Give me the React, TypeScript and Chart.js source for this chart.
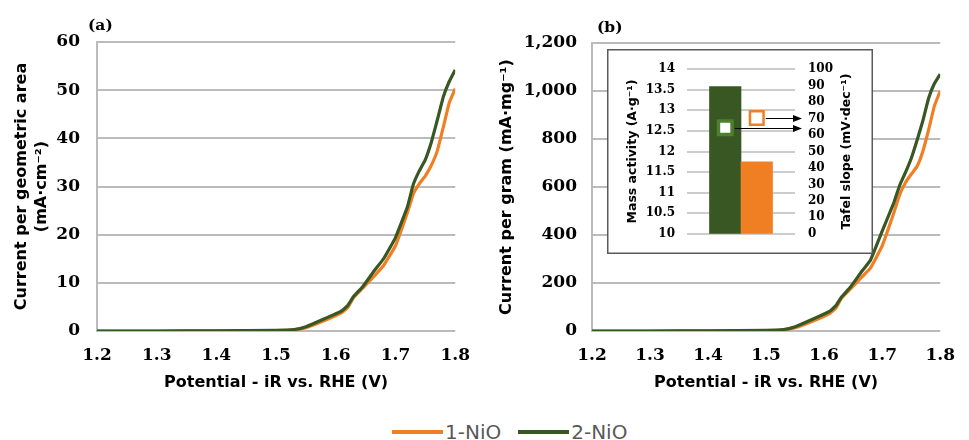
import React, { useEffect, useRef } from "react";
import { Chart, registerables } from "chart.js";

Chart.register(...registerables);

// Electrode potential after iR correction (V vs. RHE)
const POTENTIAL = [1.2, 1.3, 1.4, 1.5, 1.53, 1.55, 1.58, 1.61, 1.62, 1.63, 1.645, 1.665, 1.68, 1.7, 1.72, 1.73, 1.74, 1.75, 1.76, 1.77, 1.78, 1.79, 1.8];

// Current normalised by geometric electrode area (mA·cm⁻²)
const GEO_1NIO = [0, 0, 0.03, 0.1, 0.25, 0.7, 2.1, 3.8, 4.9, 7.0, 8.9, 11.5, 13.6, 17.7, 24.6, 28.5, 30.6, 32.2, 34.4, 37.4, 42.3, 47.4, 50.3];
const GEO_2NIO = [0, 0, 0.05, 0.15, 0.3, 0.9, 2.5, 4.2, 5.3, 7.2, 9.2, 12.6, 15.0, 19.4, 25.8, 30.5, 33.3, 35.6, 39.2, 43.8, 48.6, 51.8, 54.2];

// Current normalised by catalyst mass (mA·mg⁻¹)
const MASS_1NIO = [0, 0, 0.6, 2, 5, 14, 41, 74, 95, 137, 174, 225, 263, 355, 492, 567, 618, 653, 685, 748, 838, 938, 1000];
const MASS_2NIO = [0, 0, 1, 3, 6, 18, 49, 83, 105, 142, 182, 249, 296, 416, 534, 606, 660, 719, 794, 875, 970, 1031, 1070];

// Inset: mass activity (A·g⁻¹) and Tafel slope (mV·dec⁻¹) per sample
const SAMPLES = ["2-NiO", "1-NiO"];
const MASS_ACTIVITY = [13.58, 11.75];
const TAFEL_SLOPE = [64.4, 70.4];

const ORANGE = "#F07F24";
const GREEN = "#385723";
const GREEN_MARK = "#4E7F2E";
const GRID = "#BBBBBB";
const SERIF_BOLD = { family: '"DejaVu Serif", serif', weight: "bold" as const };
const SANS = '"DejaVu Sans", sans-serif';

// Horizontal grid lines at every tick of a value axis (plus an optional axis line),
// painted underneath everything already on the canvas
const tickGrid = {
  id: "tickGrid",
  afterDraw(chart: any, _args: any, opts: any) {
    const scale = chart.scales[opts.axis];
    const { ctx, chartArea } = chart;
    ctx.save();
    ctx.globalCompositeOperation = "destination-over";
    ctx.strokeStyle = opts.color;
    ctx.lineWidth = opts.width;
    scale.ticks.forEach((_t: any, i: number) => {
      const y = Math.round(scale.getPixelForTick(i));
      ctx.beginPath();
      ctx.moveTo(chartArea.left, y);
      ctx.lineTo(chartArea.right, y);
      ctx.stroke();
    });
    if (opts.axisLine) {
      const x = Math.round(chartArea.left);
      ctx.beginPath();
      ctx.moveTo(x, chartArea.top - opts.width / 2);
      ctx.lineTo(x, chartArea.bottom + opts.width / 2);
      ctx.stroke();
    }
    ctx.restore();
  },
};

const panelLabel = {
  id: "panelLabel",
  afterDraw(chart: any, _args: any, opts: any) {
    const { ctx, chartArea } = chart;
    ctx.save();
    ctx.font = 'bold 15.5px "DejaVu Serif", serif';
    ctx.fillStyle = "#000";
    ctx.textAlign = "left";
    ctx.textBaseline = "middle";
    ctx.fillText(opts.text, chartArea.left + opts.dx, chartArea.top + opts.dy);
    ctx.restore();
  },
};

// White inset background (slipped under the drawing) and its dark frame
const insetFrame = {
  id: "insetFrame",
  afterDraw(chart: any) {
    const { ctx, width, height } = chart;
    ctx.save();
    ctx.globalCompositeOperation = "destination-over";
    ctx.fillStyle = "#fff";
    ctx.fillRect(0, 0, width, height);
    ctx.restore();
    ctx.save();
    ctx.strokeStyle = "#595959";
    ctx.lineWidth = 1.5;
    ctx.strokeRect(0.75, 0.75, width - 1.5, height - 1.5);
    ctx.restore();
  },
};

// Secondary-axis title, written bottom-to-top like the primary one
const rightAxisTitle = {
  id: "rightAxisTitle",
  afterDraw(chart: any, _args: any, opts: any) {
    const { ctx, chartArea } = chart;
    const scale = chart.scales[opts.axis];
    ctx.save();
    ctx.translate(scale.right - opts.offset, (chartArea.top + chartArea.bottom) / 2);
    ctx.rotate(-Math.PI / 2);
    ctx.font = `bold ${opts.size}px ${SANS}`;
    ctx.fillStyle = "#000";
    ctx.textAlign = "center";
    ctx.textBaseline = "middle";
    ctx.fillText(opts.text, 0, 0);
    ctx.restore();
  },
};

// Arrows from each Tafel marker to the secondary axis
const tafelArrows = {
  id: "tafelArrows",
  afterDatasetsDraw(chart: any) {
    const meta = chart.getDatasetMeta(1);
    const { ctx, chartArea } = chart;
    const tipX = chartArea.right + 7;
    ctx.save();
    ctx.strokeStyle = "#000";
    ctx.fillStyle = "#000";
    ctx.lineWidth = 1;
    meta.data.forEach((pt: any) => {
      const half = pt.options.radius * Math.SQRT1_2 + pt.options.borderWidth / 2;
      const y = Math.round(pt.y) + 0.5;
      ctx.beginPath();
      ctx.moveTo(pt.x + half + 1, y);
      ctx.lineTo(tipX - 6, y);
      ctx.stroke();
      ctx.beginPath();
      ctx.moveTo(tipX, y);
      ctx.lineTo(tipX - 9, y - 3.5);
      ctx.lineTo(tipX - 9, y + 3.5);
      ctx.closePath();
      ctx.fill();
    });
    ctx.restore();
  },
};

type CurveOpts = {
  s1: number[];
  s2: number[];
  yMax: number;
  yStep: number;
  yTitle: string | string[];
  yFormat: (v: number) => string;
  axisWidth: number;
  titlePad: number;
  tickPad: number;
  top: number;
  right: number;
  panel: string;
  panelDx: number;
  panelDy: number;
};

function curveConfig(o: CurveOpts): any {
  const pts = (vals: number[]) => POTENTIAL.map((p, i) => ({ x: p, y: vals[i] }));
  return {
    type: "line",
    data: {
      datasets: [
        { label: "1-NiO", data: pts(o.s1), borderColor: ORANGE, borderWidth: 3.2, pointRadius: 0, tension: 0.1, order: 1 },
        { label: "2-NiO", data: pts(o.s2), borderColor: GREEN, borderWidth: 3.2, pointRadius: 0, tension: 0.1, order: 0 },
      ],
    },
    plugins: [tickGrid, panelLabel],
    options: {
      responsive: false,
      animation: false,
      layout: { padding: { top: o.top, right: o.right, bottom: 0, left: 0 } },
      plugins: {
        legend: { display: false },
        tooltip: { enabled: false },
        tickGrid: { axis: "y", color: GRID, width: 2, axisLine: true },
        panelLabel: { text: o.panel, dx: o.panelDx, dy: o.panelDy },
      },
      scales: {
        x: {
          type: "linear",
          min: 1.2,
          max: 1.8,
          afterFit: (s: any) => { s.height = 69; },
          ticks: {
            stepSize: 0.1,
            padding: 14,
            color: "#000",
            font: { ...SERIF_BOLD, size: 17 },
            callback: (v: any) => Number(v).toFixed(1),
          },
          grid: { display: false, drawTicks: false },
          border: { display: false },
          title: {
            display: true,
            text: "Potential - iR vs. RHE (V)",
            color: "#000",
            font: { family: SANS, weight: "bold", size: 16, lineHeight: 1.25 },
            padding: { top: 0, bottom: 7 },
          },
        },
        y: {
          min: 0,
          max: o.yMax,
          afterFit: (s: any) => { s.width = o.axisWidth; },
          ticks: {
            stepSize: o.yStep,
            padding: o.tickPad,
            color: "#000",
            font: { ...SERIF_BOLD, size: 17 },
            callback: (v: any) => o.yFormat(Number(v)),
          },
          grid: { display: false, drawTicks: false },
          border: { display: false },
          title: {
            display: true,
            text: o.yTitle,
            color: "#000",
            font: { family: SANS, weight: "bold", size: 16, lineHeight: 1.25 },
            padding: { top: o.titlePad, bottom: 0 },
          },
        },
      },
    },
  };
}

function insetConfig(): any {
  const pos = (i: number) => i + 1;
  return {
    type: "bar",
    data: {
      datasets: [
        {
          type: "bar",
          label: "Mass activity",
          data: SAMPLES.map((_, i) => ({ x: pos(i), y: MASS_ACTIVITY[i] })),
          backgroundColor: [GREEN, ORANGE],
          barPercentage: 1,
          categoryPercentage: 1,
          yAxisID: "y",
          order: 2,
        },
        {
          type: "line",
          label: "Tafel slope",
          data: SAMPLES.map((_, i) => ({ x: pos(i), y: TAFEL_SLOPE[i] })),
          showLine: false,
          pointStyle: "rect",
          pointRadius: 9.6,
          pointBackgroundColor: "#fff",
          pointBorderColor: [GREEN_MARK, ORANGE],
          pointBorderWidth: [3.5, 2.5],
          yAxisID: "y2",
          order: 1,
        },
      ],
    },
    plugins: [tickGrid, insetFrame, tafelArrows, rightAxisTitle],
    options: {
      responsive: false,
      animation: false,
      layout: { padding: { top: 16, right: 0, bottom: 16, left: 0 } },
      plugins: {
        legend: { display: false },
        tooltip: { enabled: false },
        tickGrid: { axis: "y", color: GRID, width: 1.5, axisLine: false },
        rightAxisTitle: { axis: "y2", text: "Tafel slope (mV·dec⁻¹)", offset: 26, size: 12.5 },
      },
      scales: {
        x: {
          type: "linear",
          display: false,
          offset: false,
          min: -0.214,
          max: 3.214,
          afterBuildTicks: (s: any) => { s.ticks = SAMPLES.map((_, i) => ({ value: pos(i) })); },
          grid: { display: false, offset: false },
        },
        y: {
          position: "left",
          min: 10,
          max: 14,
          beginAtZero: false,
          afterFit: (s: any) => { s.width = 80; },
          ticks: {
            stepSize: 0.5,
            autoSkip: false,
            padding: 12,
            color: "#000",
            font: { ...SERIF_BOLD, size: 12 },
            callback: (v: any) => String(v),
          },
          grid: { display: false, drawTicks: false },
          border: { display: false },
          title: {
            display: true,
            text: "Mass activity (A·g⁻¹)",
            color: "#000",
            font: { family: SANS, weight: "bold", size: 12.5, lineHeight: 1.2 },
            padding: { top: 18, bottom: 0 },
          },
        },
        y2: {
          position: "right",
          min: 0,
          max: 100,
          afterFit: (s: any) => { s.width = 78; },
          ticks: {
            stepSize: 10,
            autoSkip: false,
            padding: 13,
            color: "#000",
            font: { ...SERIF_BOLD, size: 12 },
          },
          grid: { display: false, drawTicks: false },
          border: { display: false },
        },
      },
    },
  };
}

function ChartBox(props: { left: number; top: number; width: number; height: number; build: () => any }) {
  const ref = useRef<HTMLCanvasElement>(null);
  useEffect(() => {
    const chart = new Chart(ref.current as HTMLCanvasElement, props.build());
    return () => chart.destroy();
  }, []);
  return (
    <div style={{ position: "absolute", left: props.left, top: props.top, width: props.width, height: props.height }}>
      <canvas ref={ref} width={props.width} height={props.height} style={{ display: "block" }} />
    </div>
  );
}

function LegendItem(props: { color: string; label: string }) {
  return (
    <div style={{ display: "flex", alignItems: "center" }}>
      <span style={{ display: "inline-block", width: 51, height: 4, background: props.color, marginRight: 2 }} />
      <span style={{ font: `20px ${SANS}`, color: "#595959" }}>{props.label}</span>
    </div>
  );
}

export default function App() {
  useEffect(() => {
    document.body.style.margin = "0";
  }, []);
  return (
    <div style={{ position: "relative", width: 969, height: 440, overflow: "hidden" }}>
      <ChartBox
        left={0}
        top={0}
        width={484}
        height={400}
        build={() =>
          curveConfig({
            s1: GEO_1NIO,
            s2: GEO_2NIO,
            yMax: 60,
            yStep: 10,
            yTitle: ["Current per geometric area", "(mA·cm⁻²)"],
            yFormat: (v) => String(v),
            axisWidth: 97,
            titlePad: 12,
            tickPad: 17,
            top: 42,
            right: 18,
            panel: "(a)",
            panelDx: -9,
            panelDy: -16.5,
          })
        }
      />
      <ChartBox
        left={480}
        top={0}
        width={489}
        height={400}
        build={() =>
          curveConfig({
            s1: MASS_1NIO,
            s2: MASS_2NIO,
            yMax: 1200,
            yStep: 200,
            yTitle: "Current per gram (mA·mg⁻¹)",
            yFormat: (v) => v.toLocaleString("en-US"),
            axisWidth: 112,
            titlePad: 17,
            tickPad: 15,
            top: 43,
            right: 15,
            panel: "(b)",
            panelDx: 5,
            panelDy: -15,
          })
        }
      />
      <ChartBox left={607} top={49} width={266} height={205} build={insetConfig} />
      <div
        style={{
          position: "absolute",
          left: 392,
          top: 420,
          height: 24,
          display: "flex",
          alignItems: "center",
          gap: 17,
        }}
      >
        <LegendItem color={ORANGE} label="1-NiO" />
        <LegendItem color={GREEN} label="2-NiO" />
      </div>
    </div>
  );
}
